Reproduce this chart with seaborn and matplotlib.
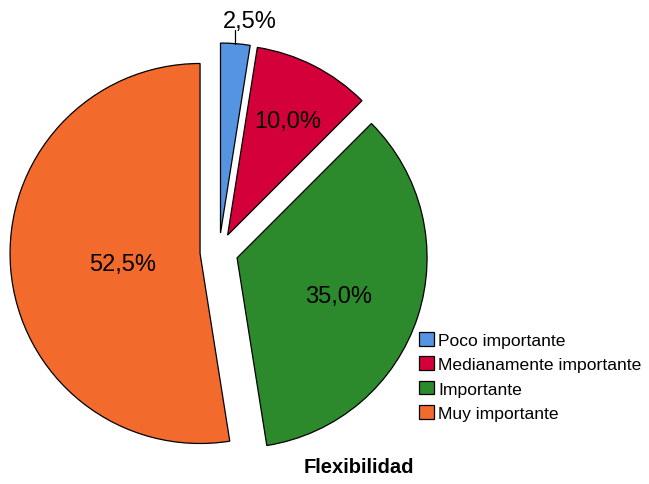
import numpy as np
import matplotlib
matplotlib.use("Agg")
import matplotlib.pyplot as plt
import seaborn as sns

categories = ["Poco importante", "Medianamente importante", "Importante", "Muy importante"]
percentages = [2.5, 10.0, 35.0, 52.5]
colors = ["#5494E0", "#D4003A", "#2C8A2C", "#F26B2C"]
title = "Flexibilidad"

# label distance from pie center (fraction of radius), the small slice is labelled outside
label_radius = [None, 0.80, 0.66, 0.51]

sns.set_style("white")
plt.rcParams["font.family"] = ["Liberation Sans", "DejaVu Sans"]
plt.rcParams["text.color"] = "black"

fig = plt.figure(figsize=(6.49, 4.85), dpi=100)
ax = fig.add_axes([0, 0, 1, 1])

wedges, _ = ax.pie(percentages, colors=colors, startangle=90, counterclock=False,
                   explode=[0.1] * len(percentages),
                   wedgeprops=dict(edgecolor="black", linewidth=0.9))

for w, pct, lr in zip(wedges, percentages, label_radius):
    ang = np.deg2rad((w.theta1 + w.theta2) / 2)
    cx, cy = w.center
    txt = "{:.1f}%".format(pct).replace(".", ",")
    if lr is None:
        x0 = cx + np.cos(ang) * 1.0
        y0 = cy + np.sin(ang) * 1.0
        ax.plot([x0, x0], [y0, y0 + 0.07], color="black", lw=0.9)
        ax.text(x0 + 0.075, y0 + 0.06, txt, ha="center", va="bottom", fontsize=17, color="black")
    else:
        ax.text(np.cos(ang) * lr, np.sin(ang) * lr - 0.025, txt, ha="center", va="center",
                fontsize=17, color="black")

# 1 data unit = 190 px, pie center at (219, 253) px from top-left
r = 190.0
ax.set_xlim(-219 / r, (649 - 219) / r)
ax.set_ylim(-(485 - 253) / r, 253 / r)
ax.set_aspect("auto")
ax.axis("off")

leg = ax.legend(wedges, categories, loc="upper left", bbox_to_anchor=(419 / 649, 1 - 333 / 485),
                frameon=False, fontsize=12.6, handlelength=0.85, handleheight=0.85,
                handletextpad=0.25, labelspacing=0.47, borderaxespad=0, borderpad=0)
for t in leg.get_texts():
    t.set_color("black")

fig.text(359 / 649, 1 - 468 / 485, title, ha="center", va="center", fontsize=14.5,
         fontweight="bold", color="black")

fig.savefig("out.png", dpi=100)
